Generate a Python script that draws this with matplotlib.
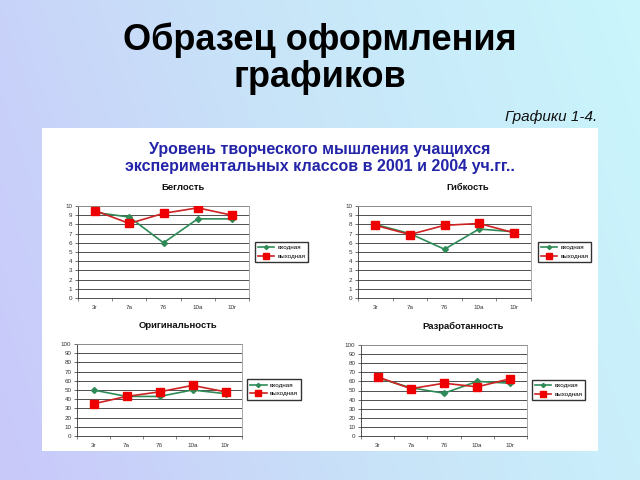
import numpy as np
import matplotlib
matplotlib.use('Agg')
import matplotlib.pyplot as plt
from matplotlib.patches import Rectangle
from matplotlib.colors import LinearSegmentedColormap

plt.rcParams['font.family'] = ['Liberation Sans', 'DejaVu Sans']

CLASSES = ['3г', '7а', '7б', '10а', '10г']
SERIES_NAMES = ['входная', 'выходная']

FLUENCY_IN = [9.3, 8.8, 6.0, 8.6, 8.6]
FLUENCY_OUT = [9.5, 8.1, 9.2, 9.8, 9.0]
FLEX_IN = [8.0, 7.0, 5.3, 7.5, 7.2]
FLEX_OUT = [7.9, 6.9, 7.9, 8.1, 7.1]
ORIG_IN = [50, 43, 43, 50, 46]
ORIG_OUT = [35, 43, 48, 55, 48]
ELAB_IN = [64, 53, 47, 60, 58]
ELAB_OUT = [65, 52, 58, 54, 63]

W, H = 640, 480


def fig_rect(x0, y0, x1, y1):
    # pixel box (top-left origin) -> figure fraction rect
    return [x0 / W, 1 - y1 / H, (x1 - x0) / W, (y1 - y0) / H]


fig = plt.figure(figsize=(6.4, 4.8), dpi=100)

# gradient background
bg = fig.add_axes([0, 0, 1, 1], zorder=-10)
gx, gy = np.meshgrid(np.linspace(0, 1, 256), np.linspace(0, 1, 256))
grad = 0.8 * gx + 0.2 * (1 - gy)
cmap = LinearSegmentedColormap.from_list('bg', ['#c8c8fa', '#c8e4f8', '#caf6fc'])
bg.imshow(grad, cmap=cmap, aspect='auto', extent=[0, 1, 0, 1], origin='upper')
bg.set_axis_off()

# white panel
fig.patches.append(Rectangle((42 / W, 1 - 451 / H), (598 - 42) / W, (451 - 128) / H,
                             transform=fig.transFigure, facecolor='white',
                             edgecolor='none', zorder=-5))

fig.text(0.5, 1 - 50 / H, 'Образец оформления', ha='center', va='baseline',
         fontsize=26, fontweight='bold', color='black')
fig.text(0.5, 1 - 87 / H, 'графиков', ha='center', va='baseline',
         fontsize=26, fontweight='bold', color='black')
fig.text(597 / W, 1 - 121 / H, 'Графики 1-4.', ha='right', va='baseline',
         fontsize=11, style='italic', color='#111111')
fig.text(0.5, 1 - 154 / H, 'Уровень творческого мышления учащихся',
         ha='center', va='baseline', fontsize=11.5, fontweight='bold', color='#2424a8')
fig.text(0.5, 1 - 171 / H, 'экспериментальных классов в 2001 и 2004 уч.гг..',
         ha='center', va='baseline', fontsize=11.5, fontweight='bold', color='#2424a8')

panels = [
    ('Беглость', FLUENCY_IN, FLUENCY_OUT, 10, 1, (78, 206, 249, 298), (254, 243, 309, 261), 183, 187),
    ('Гибкость', FLEX_IN, FLEX_OUT, 10, 1, (358, 206, 531, 298), (537, 243, 592, 261), 468, 187),
    ('Оригинальность', ORIG_IN, ORIG_OUT, 100, 10, (77, 344, 242, 436), (247, 381, 301, 398), 178, 326),
    ('Разработанность', ELAB_IN, ELAB_OUT, 100, 10, (361, 345, 527, 436), (531, 381, 586, 399), 463, 326),
]

x = np.arange(len(CLASSES))
for title, v_in, v_out, ymax, step, box, lbox, tx, ty in panels:
    ax = fig.add_axes(fig_rect(*box))
    for yv in np.arange(step, ymax + step / 2, step):
        ax.axhline(yv, color='#333333', lw=0.6, zorder=1)
    l1, = ax.plot(x, v_in, color='#2e8b57', lw=1.2, marker='D', ms=3,
                  mfc='#2e8b57', mec='#2e8b57', zorder=3)
    l2, = ax.plot(x, v_out, color='#cc2222', lw=1.2, marker='s', ms=6,
                  mfc='#ee0000', mec='#ee0000', zorder=4)
    ax.set_xlim(-0.5, len(CLASSES) - 0.5)
    ax.set_ylim(0, ymax)
    ax.set_yticks(np.arange(0, ymax + step / 2, step))
    ax.set_xticks(x)
    ax.set_xticklabels(CLASSES)
    ax.set_xticks(np.arange(-0.5, len(CLASSES)), minor=True)
    ax.tick_params(axis='x', which='major', length=0, labelsize=4.5, pad=5, colors='#333333')
    ax.tick_params(axis='x', which='minor', length=2, width=0.5, direction='out', color='#555555')
    ax.tick_params(axis='y', length=2, width=0.5, labelsize=4.5, pad=2, colors='#333333')
    for side in ['top', 'right']:
        ax.spines[side].set_color('#999999')
        ax.spines[side].set_linewidth(0.6)
    for side in ['left', 'bottom']:
        ax.spines[side].set_color('#333333')
        ax.spines[side].set_linewidth(0.6)
    fig.text(tx / W, 1 - ty / H, title, ha='center', va='center',
             fontsize=6.8, fontweight='bold', color='#111111')
    lax_rect = fig_rect(*lbox)
    fig.legend([l1, l2], SERIES_NAMES, loc='center',
               bbox_to_anchor=(lax_rect[0] + lax_rect[2] / 2, lax_rect[1] + lax_rect[3] / 2),
               fontsize=4.5, frameon=True, fancybox=False, edgecolor='#333333',
               framealpha=1, borderpad=0.5, handlelength=2.6, labelspacing=0.5,
               handletextpad=0.5, markerscale=0.7)

fig.savefig('out.png', dpi=100)
